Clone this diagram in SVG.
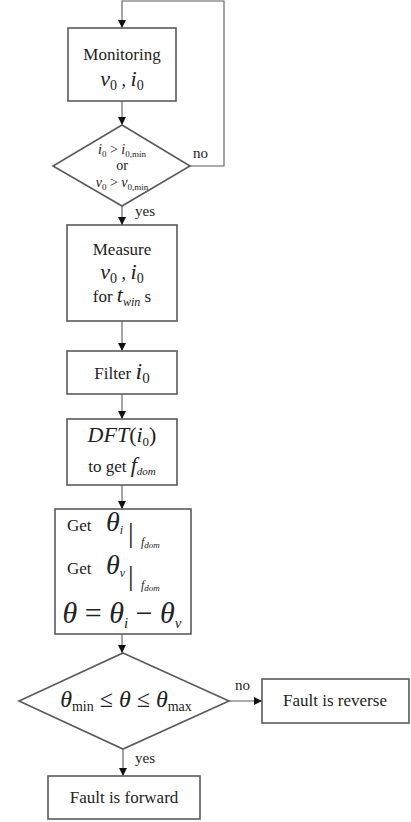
<svg xmlns="http://www.w3.org/2000/svg" width="411" height="822" viewBox="0 0 411 822" font-family="'Liberation Serif', Tinos, 'Times New Roman', 'Noto Serif', 'DejaVu Serif', FreeSerif, serif">
<style>
.box{fill:#fff;stroke:#5a5a5a;stroke-width:1.6}
.ln{fill:none;stroke:#5a5a5a;stroke-width:1.1}
text{fill:#222;text-anchor:middle}
.t{font-size:17px}
.m{font-style:italic}
.lab{font-size:15px;text-anchor:start}
.st{text-anchor:start}
</style>
<defs>
<marker id="ah" viewBox="0 0 10 10" refX="10" refY="5" markerWidth="8" markerHeight="8" markerUnits="userSpaceOnUse" orient="auto">
<path d="M0,0 L10,5 L0,10 z" fill="#111"/>
</marker>
</defs>
<rect width="411" height="822" fill="#fff"/>
<g id="connectors">
<polyline class="ln" points="190,166 224,166 224,1 122,1 122,28" marker-end="url(#ah)"/>
<line class="ln" x1="122" y1="101" x2="122" y2="125" marker-end="url(#ah)"/>
<line class="ln" x1="122" y1="206" x2="122" y2="225" marker-end="url(#ah)"/>
<line class="ln" x1="122" y1="321" x2="122" y2="351" marker-end="url(#ah)"/>
<line class="ln" x1="122" y1="394" x2="122" y2="419" marker-end="url(#ah)"/>
<line class="ln" x1="122" y1="485" x2="122" y2="509" marker-end="url(#ah)"/>
<line class="ln" x1="122" y1="634" x2="122" y2="653" marker-end="url(#ah)"/>
<line class="ln" x1="229" y1="701" x2="262" y2="701" marker-end="url(#ah)"/>
<line class="ln" x1="123" y1="749" x2="123" y2="776" marker-end="url(#ah)"/>
<text class="lab" x="193" y="158">no</text>
<text class="lab" x="135" y="216">yes</text>
<text class="lab" x="235" y="690">no</text>
<text class="lab" x="135" y="763">yes</text>
</g>
<g id="monitoring">
<rect class="box" x="68" y="28" width="108" height="73"/>
<text class="t" x="122" y="60">Monitoring</text>
<text x="122" y="86" font-size="22"><tspan class="m">v</tspan><tspan font-size="14" dy="4">0</tspan><tspan dy="-4" font-size="18"> , </tspan><tspan class="m">i</tspan><tspan font-size="14" dy="4">0</tspan></text>
</g>
<g id="threshold">
<polygon class="box" points="122,125 190,166 122,206 53,166"/>
<text x="122" y="154" font-size="14"><tspan class="m">i</tspan><tspan font-size="9" dy="3">0</tspan><tspan dy="-3"> &gt; </tspan><tspan class="m">i</tspan><tspan font-size="9" dy="3">0,min</tspan></text>
<text x="122" y="170" font-size="14">or</text>
<text x="122" y="187" font-size="14"><tspan class="m">v</tspan><tspan font-size="9" dy="3">0</tspan><tspan dy="-3"> &gt; </tspan><tspan class="m">v</tspan><tspan font-size="9" dy="3">0,min</tspan></text>
</g>
<g id="measure">
<rect class="box" x="67" y="225" width="110" height="96"/>
<text class="t" x="122" y="255">Measure</text>
<text x="122" y="279" font-size="22"><tspan class="m">v</tspan><tspan font-size="14" dy="4">0</tspan><tspan dy="-4" font-size="18"> , </tspan><tspan class="m">i</tspan><tspan font-size="14" dy="4">0</tspan></text>
<text x="122" y="302" font-size="17">for <tspan class="m" font-size="22">t</tspan><tspan class="m" font-size="12" dy="4">win</tspan><tspan dy="-4"> s</tspan></text>
</g>
<g id="filter">
<rect class="box" x="67" y="351" width="110" height="43"/>
<text x="122" y="379" font-size="17">Filter <tspan class="m" font-size="24">i</tspan><tspan font-size="15" dy="4">0</tspan></text>
</g>
<g id="dft">
<rect class="box" x="67" y="419" width="110" height="66"/>
<text x="122" y="442" font-size="22"><tspan class="m">DFT</tspan>(<tspan class="m">i</tspan><tspan font-size="13" dy="4">0</tspan><tspan dy="-4">)</tspan></text>
<text x="122" y="472" font-size="17">to get <tspan class="m" font-size="22">f</tspan><tspan class="m" font-size="11" dy="3">dom</tspan></text>
</g>
<g id="phase">
<rect class="box" x="55" y="509" width="136" height="125"/>
<text class="st" x="67" y="531" font-size="17">Get</text>
<text class="st m" x="106" y="531" font-size="28">θ<tspan font-size="12" dy="3">i</tspan></text>
<text class="st" x="128" y="542" font-size="28">|</text>
<text class="st m" x="141" y="546" font-size="12">f<tspan font-size="9" dy="2">dom</tspan></text>
<text class="st" x="67" y="574" font-size="17">Get</text>
<text class="st m" x="106" y="574" font-size="28">θ<tspan font-size="12" dy="3">v</tspan></text>
<text class="st" x="128" y="585" font-size="28">|</text>
<text class="st m" x="141" y="589" font-size="12">f<tspan font-size="9" dy="2">dom</tspan></text>
<text x="122" y="623" font-size="30"><tspan class="m">θ</tspan> = <tspan class="m">θ</tspan><tspan class="m" font-size="15" dy="5">i</tspan><tspan dy="-5"> − </tspan><tspan class="m">θ</tspan><tspan class="m" font-size="15" dy="5">v</tspan></text>
</g>
<g id="range">
<polygon class="box" points="123,653 229,701 123,749 19,701"/>
<text x="126" y="707" font-size="24"><tspan class="m">θ</tspan><tspan font-size="14" dy="4">min</tspan><tspan dy="-4"> ≤ </tspan><tspan class="m">θ</tspan> ≤ <tspan class="m">θ</tspan><tspan font-size="14" dy="4">max</tspan></text>
</g>
<g id="reverse">
<rect class="box" x="262" y="679" width="147" height="44"/>
<text x="335" y="706" font-size="17">Fault is reverse</text>
</g>
<g id="forward">
<rect class="box" x="48" y="776" width="152" height="43"/>
<text x="124" y="803" font-size="17">Fault is forward</text>
</g>
</svg>
